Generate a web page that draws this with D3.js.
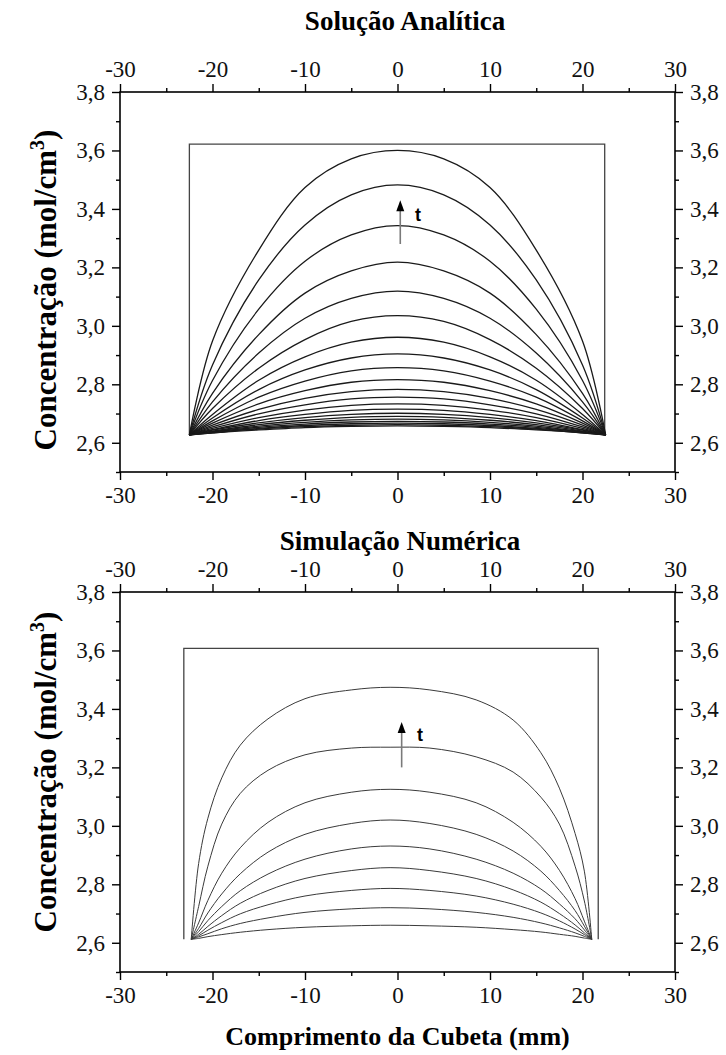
<!DOCTYPE html>
<html>
<head>
<meta charset="utf-8">
<script src="https://cdn.jsdelivr.net/npm/d3@7"></script>
<style>
  body { margin: 0; background: #fff; }
  svg text { font-family: "Liberation Serif", "Times New Roman", serif; }
</style>
</head>
<body>
<svg id="chart" width="726" height="1055"></svg>
<script>
// Axis ticks
const xTickValues = [-30, -20, -10, 0, 10, 20, 30];
const xTickLabels = ['-30', '-20', '-10', '0', '10', '20', '30'];
const xMinorValues = [-25, -15, -5, 5, 15, 25];
const yTickValues = [2.6, 2.8, 3.0, 3.2, 3.4, 3.6, 3.8];
const yTickLabels = ['2,6', '2,8', '3,0', '3,2', '3,4', '3,6', '3,8'];
const yMinorValues = [2.5, 2.7, 2.9, 3.1, 3.3, 3.5, 3.7];

// Solução Analítica: concentration profiles along the cuvette
const analyticX = [-22.5, -20, -15, -10, -5, 0, 5, 10, 15, 20, 22.5];
const analyticCurves = [
  [2.627, 2.948, 3.259, 3.473, 3.571, 3.600, 3.571, 3.473, 3.259, 2.948, 2.627],
  [2.627, 2.866, 3.157, 3.345, 3.448, 3.482, 3.448, 3.345, 3.157, 2.866, 2.627],
  [2.627, 2.813, 3.057, 3.221, 3.311, 3.343, 3.311, 3.221, 3.057, 2.813, 2.627],
  [2.627, 2.769, 2.970, 3.112, 3.188, 3.218, 3.188, 3.112, 2.970, 2.769, 2.627],
  [2.627, 2.740, 2.907, 3.026, 3.094, 3.119, 3.094, 3.026, 2.907, 2.740, 2.627],
  [2.627, 2.717, 2.855, 2.953, 3.015, 3.035, 3.015, 2.953, 2.855, 2.717, 2.627],
  [2.627, 2.697, 2.814, 2.894, 2.944, 2.961, 2.944, 2.894, 2.814, 2.697, 2.627],
  [2.627, 2.685, 2.782, 2.849, 2.890, 2.904, 2.890, 2.849, 2.782, 2.685, 2.627],
  [2.627, 2.675, 2.756, 2.811, 2.846, 2.857, 2.846, 2.811, 2.756, 2.675, 2.627],
  [2.627, 2.667, 2.733, 2.778, 2.807, 2.816, 2.807, 2.778, 2.733, 2.667, 2.627],
  [2.627, 2.660, 2.714, 2.752, 2.775, 2.783, 2.775, 2.752, 2.714, 2.660, 2.627],
  [2.627, 2.654, 2.699, 2.730, 2.750, 2.756, 2.750, 2.730, 2.699, 2.654, 2.627],
  [2.627, 2.649, 2.686, 2.712, 2.728, 2.733, 2.728, 2.712, 2.686, 2.649, 2.627],
  [2.627, 2.645, 2.676, 2.697, 2.711, 2.715, 2.711, 2.697, 2.676, 2.645, 2.627],
  [2.627, 2.643, 2.668, 2.686, 2.697, 2.701, 2.697, 2.686, 2.668, 2.643, 2.627],
  [2.627, 2.640, 2.662, 2.677, 2.687, 2.690, 2.687, 2.677, 2.662, 2.640, 2.627],
  [2.627, 2.638, 2.657, 2.670, 2.678, 2.681, 2.678, 2.670, 2.657, 2.638, 2.627],
  [2.627, 2.637, 2.653, 2.664, 2.671, 2.673, 2.671, 2.664, 2.653, 2.637, 2.627],
  [2.627, 2.635, 2.649, 2.659, 2.665, 2.667, 2.665, 2.659, 2.649, 2.635, 2.627],
  [2.627, 2.634, 2.647, 2.655, 2.660, 2.662, 2.660, 2.655, 2.647, 2.634, 2.627],
  [2.627, 2.634, 2.644, 2.652, 2.656, 2.658, 2.656, 2.652, 2.644, 2.634, 2.627]
];
const analyticBoxX = [-22.5, -22.5, 22.4, 22.4];
const analyticBoxY = [2.627, 3.622, 3.622, 2.627];
const analyticArrow = { x: 0.3, y0: 3.28, y1: 3.43, labelX: 1.9, labelY: 3.36 };

// Simulação Numérica
const numericX = [-22.3, -21.5, -20.5, -19, -17, -14, -10, -5, -0.8, 3.5, 8.5, 12.5, 15.5, 17.5, 19.2, 20.2, 21.0];
const numericCurves = [
  [2.612, 2.871, 3.026, 3.164, 3.276, 3.366, 3.435, 3.465, 3.474, 3.465, 3.431, 3.362, 3.250, 3.129, 2.974, 2.845, 2.612],
  [2.612, 2.724, 2.862, 3.006, 3.111, 3.190, 3.243, 3.266, 3.269, 3.266, 3.236, 3.184, 3.098, 3.006, 2.862, 2.743, 2.612],
  [2.612, 2.668, 2.745, 2.838, 2.925, 3.012, 3.079, 3.115, 3.125, 3.115, 3.079, 3.012, 2.930, 2.848, 2.751, 2.674, 2.612],
  [2.612, 2.649, 2.702, 2.767, 2.836, 2.910, 2.971, 3.008, 3.020, 3.008, 2.971, 2.914, 2.845, 2.779, 2.710, 2.657, 2.612],
  [2.612, 2.638, 2.676, 2.724, 2.778, 2.835, 2.886, 2.921, 2.931, 2.921, 2.886, 2.838, 2.784, 2.733, 2.682, 2.644, 2.612],
  [2.612, 2.629, 2.656, 2.693, 2.735, 2.779, 2.820, 2.847, 2.857, 2.847, 2.820, 2.781, 2.739, 2.700, 2.661, 2.634, 2.612],
  [2.612, 2.624, 2.643, 2.669, 2.699, 2.730, 2.760, 2.779, 2.786, 2.779, 2.760, 2.732, 2.702, 2.675, 2.647, 2.628, 2.612],
  [2.612, 2.620, 2.631, 2.648, 2.666, 2.685, 2.704, 2.716, 2.720, 2.716, 2.704, 2.687, 2.668, 2.651, 2.634, 2.622, 2.612],
  [2.612, 2.615, 2.621, 2.628, 2.636, 2.645, 2.653, 2.658, 2.660, 2.658, 2.653, 2.645, 2.637, 2.629, 2.622, 2.616, 2.612]
];
const numericBoxX = [-23.1, -23.1, 21.7, 21.7];
const numericBoxY = [2.612, 3.607, 3.607, 2.612];
const numericArrow = { x: 0.45, y0: 3.20, y1: 3.355, labelX: 2.1, labelY: 3.29 };

const svg = d3.select('#chart');
svg.append('rect').attr('width', 726).attr('height', 1055).attr('fill', '#fff');

const x = d3.scaleLinear().domain([-30, 30]).range([120, 675]);

function drawPanel(opt) {
  const y = d3.scaleLinear().domain([2.5, 3.8]).range([opt.bottom, opt.top]);
  const g = svg.append('g');

  // Title
  svg.append('text')
    .attr('x', opt.titleX).attr('y', opt.titleY)
    .attr('text-anchor', 'middle')
    .attr('font-size', 27).attr('font-weight', 'bold')
    .text(opt.title);

  // Axes: majors with labels, minors without
  const axes = [
    { gen: d3.axisBottom, t: `translate(0,${opt.bottom})`, s: x, maj: xTickValues, lab: xTickLabels, min: xMinorValues },
    { gen: d3.axisTop, t: `translate(0,${opt.top})`, s: x, maj: xTickValues, lab: xTickLabels, min: xMinorValues },
    { gen: d3.axisLeft, t: 'translate(120,0)', s: y, maj: yTickValues, lab: yTickLabels, min: yMinorValues },
    { gen: d3.axisRight, t: 'translate(675,0)', s: y, maj: yTickValues, lab: yTickLabels, min: yMinorValues }
  ];
  axes.forEach(a => {
    g.append('g')
      .attr('transform', a.t)
      .call(a.gen(a.s).tickValues(a.maj).tickSize(8).tickSizeOuter(0).tickPadding(7)
        .tickFormat((d, i) => a.lab[i]))
      .call(s => s.select('.domain').remove())
      .call(s => s.selectAll('text')
        .attr('font-family', '"Liberation Serif", serif')
        .attr('font-size', 23).attr('fill', '#111'))
      .call(s => s.selectAll('line').attr('stroke', '#000').attr('stroke-width', 1.4));
    g.append('g')
      .attr('transform', a.t)
      .call(a.gen(a.s).tickValues(a.min).tickSize(4).tickSizeOuter(0).tickFormat(''))
      .call(s => s.select('.domain').remove())
      .call(s => s.selectAll('line').attr('stroke', '#000').attr('stroke-width', 1.4));
  });

  // Frame
  g.append('rect')
    .attr('x', x(-30)).attr('y', y(3.8))
    .attr('width', x(30) - x(-30)).attr('height', y(2.5) - y(3.8))
    .attr('fill', 'none').attr('stroke', '#000').attr('stroke-width', 1.6);

  // Y label
  const ylab = svg.append('text')
    .attr('transform', `translate(56,${opt.labelMid}) rotate(-90)`)
    .attr('text-anchor', 'middle')
    .attr('font-size', 31).attr('font-weight', 'bold');
  ylab.append('tspan').text('Concentração (mol/cm');
  ylab.append('tspan').attr('font-size', 20).attr('dy', -12).text('3');
  ylab.append('tspan').attr('dy', 12).text(')');

  // Box
  const line = d3.line().x(d => x(d[0])).y(d => y(d[1]));
  g.append('path')
    .datum(opt.boxX.map((v, i) => [v, opt.boxY[i]]))
    .attr('d', line)
    .attr('fill', 'none').attr('stroke', '#444').attr('stroke-width', 1.3);

  // Curves
  const curve = d3.line().curve(d3.curveCatmullRom.alpha(0.5)).x(d => x(d[0])).y(d => y(d[1]));
  g.selectAll('path.c')
    .data(opt.curves)
    .join('path')
    .attr('class', 'c')
    .attr('d', vals => curve(vals.map((v, i) => [opt.xs[i], v])))
    .attr('fill', 'none')
    .attr('stroke', opt.stroke)
    .attr('stroke-width', opt.width);

  // Time arrow
  const ax = x(opt.arrow.x), ay = y(opt.arrow.y1);
  g.append('line')
    .attr('x1', ax).attr('x2', ax)
    .attr('y1', y(opt.arrow.y0)).attr('y2', ay + 6)
    .attr('stroke', '#7a7a7a').attr('stroke-width', 1.6);
  g.append('path')
    .attr('d', `M${ax - 4},${ay + 11}L${ax},${ay}L${ax + 4},${ay + 11}Z`)
    .attr('fill', '#000');
  g.append('text')
    .attr('x', x(opt.arrow.labelX)).attr('y', y(opt.arrow.labelY))
    .attr('font-size', 18).attr('font-weight', 'bold')
    .style('font-family', '"Liberation Sans", Arial, sans-serif')
    .text('t');
}

drawPanel({
  title: 'Solução Analítica', titleX: 405, titleY: 30, top: 92, bottom: 472, labelMid: 290,
  xs: analyticX, curves: analyticCurves, boxX: analyticBoxX, boxY: analyticBoxY,
  arrow: analyticArrow, stroke: '#1a1a1a', width: 1.3
});
drawPanel({
  title: 'Simulação Numérica', titleX: 400, titleY: 550, top: 592, bottom: 972, labelMid: 772,
  xs: numericX, curves: numericCurves, boxX: numericBoxX, boxY: numericBoxY,
  arrow: numericArrow, stroke: '#3a3a3a', width: 1.0
});

svg.append('text')
  .attr('x', 397.5).attr('y', 1045)
  .attr('text-anchor', 'middle')
  .attr('font-size', 26).attr('font-weight', 'bold')
  .text('Comprimento da Cubeta (mm)');
</script>
</body>
</html>
